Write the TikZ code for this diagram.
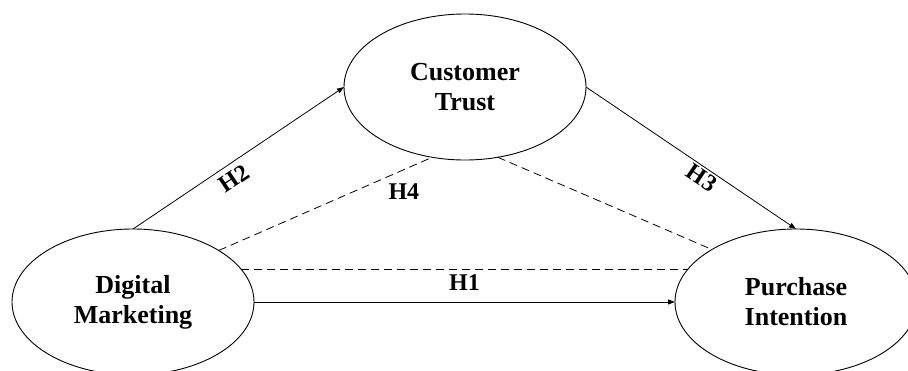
\documentclass[tikz,border=0pt]{standalone}
\usepackage{fontspec}
\setmainfont{Liberation Serif}
\usetikzlibrary{shapes.geometric,arrows.meta}
\begin{document}
\begin{tikzpicture}[x=1pt,y=-1pt,
  construct/.style={ellipse,draw,line width=0.9pt,minimum width=242pt,minimum height=146pt,
    inner sep=0pt,outer sep=0pt,align=center,font=\fontsize{26}{30}\selectfont\bfseries},
  causal/.style={line width=0.8pt,-{Triangle[length=7pt,width=5pt]}},
  mediate/.style={line width=0.8pt,dash pattern=on 8pt off 5pt},
  hlabel/.style={font=\fontsize{24}{24}\selectfont\bfseries,inner sep=0pt}]
\useasboundingbox (0,0) rectangle (908,370);
\clip (0,0) rectangle (908,370);
\node[construct] (dm) at (133,302) {Digital\\Marketing};
\node[construct] (ct) at (465,87) {Customer\\Trust};
\node[construct] (pi) at (796,302) {Purchase\\Intention};
\draw[causal] (dm.north) -- node[hlabel,sloped,below=6pt,pos=0.44]{H2} (ct.west);
\draw[causal] (ct.east) -- node[hlabel,sloped,below=2pt,pos=0.58]{H3} (pi.north);
\draw[causal] (dm.east) -- node[hlabel,above=11pt]{H1} (pi.west);
\draw[mediate] (dm.31) -- node[hlabel,pos=0.867,yshift=-21.6pt]{H4} (ct.245);
\draw[mediate] (ct.295) -- (pi.148);
\draw[mediate] (dm.17) -- (pi.163);
\end{tikzpicture}
\end{document}
